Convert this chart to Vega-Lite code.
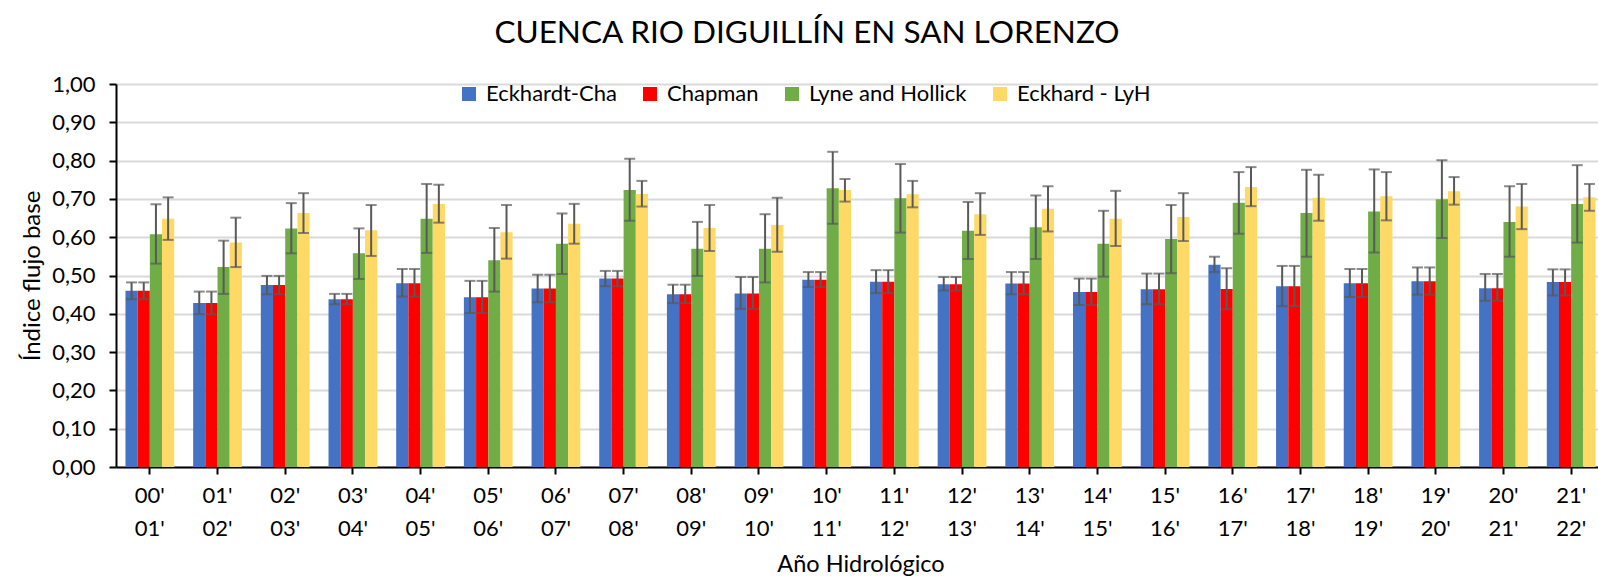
{
  "$schema": "https://vega.github.io/schema/vega-lite/v6.json",
  "autosize": {"type": "none"},
  "width": 1482,
  "height": 383,
  "padding": {"left": 116, "top": 84, "right": 0, "bottom": 113},
  "background": "white",
  "title": {"text": "CUENCA RIO DIGUILLÍN EN SAN LORENZO", "font": "Lato", "fontSize": 31.5, "fontWeight": "normal", "color": "#000000", "anchor": "middle", "frame": "group", "dx": -50, "offset": 24},
  "data": {"values": [
    {"yr": "00' 01'", "m": "Eckhardt-Cha", "v": 0.460, "lo": 0.438, "hi": 0.482},
    {"yr": "00' 01'", "m": "Chapman", "v": 0.460, "lo": 0.438, "hi": 0.482},
    {"yr": "00' 01'", "m": "Lyne and Hollick", "v": 0.608, "lo": 0.531, "hi": 0.686},
    {"yr": "00' 01'", "m": "Eckhard - LyH", "v": 0.648, "lo": 0.593, "hi": 0.704},
    {"yr": "01' 02'", "m": "Eckhardt-Cha", "v": 0.428, "lo": 0.399, "hi": 0.458},
    {"yr": "01' 02'", "m": "Chapman", "v": 0.428, "lo": 0.399, "hi": 0.458},
    {"yr": "01' 02'", "m": "Lyne and Hollick", "v": 0.522, "lo": 0.452, "hi": 0.591},
    {"yr": "01' 02'", "m": "Eckhard - LyH", "v": 0.586, "lo": 0.522, "hi": 0.651},
    {"yr": "02' 03'", "m": "Eckhardt-Cha", "v": 0.475, "lo": 0.451, "hi": 0.499},
    {"yr": "02' 03'", "m": "Chapman", "v": 0.475, "lo": 0.451, "hi": 0.499},
    {"yr": "02' 03'", "m": "Lyne and Hollick", "v": 0.623, "lo": 0.558, "hi": 0.689},
    {"yr": "02' 03'", "m": "Eckhard - LyH", "v": 0.663, "lo": 0.611, "hi": 0.715},
    {"yr": "03' 04'", "m": "Eckhardt-Cha", "v": 0.438, "lo": 0.425, "hi": 0.452},
    {"yr": "03' 04'", "m": "Chapman", "v": 0.438, "lo": 0.425, "hi": 0.452},
    {"yr": "03' 04'", "m": "Lyne and Hollick", "v": 0.558, "lo": 0.491, "hi": 0.623},
    {"yr": "03' 04'", "m": "Eckhard - LyH", "v": 0.618, "lo": 0.551, "hi": 0.684},
    {"yr": "04' 05'", "m": "Eckhardt-Cha", "v": 0.480, "lo": 0.445, "hi": 0.517},
    {"yr": "04' 05'", "m": "Chapman", "v": 0.480, "lo": 0.445, "hi": 0.517},
    {"yr": "04' 05'", "m": "Lyne and Hollick", "v": 0.648, "lo": 0.559, "hi": 0.739},
    {"yr": "04' 05'", "m": "Eckhard - LyH", "v": 0.687, "lo": 0.638, "hi": 0.737},
    {"yr": "05' 06'", "m": "Eckhardt-Cha", "v": 0.443, "lo": 0.402, "hi": 0.486},
    {"yr": "05' 06'", "m": "Chapman", "v": 0.443, "lo": 0.402, "hi": 0.486},
    {"yr": "05' 06'", "m": "Lyne and Hollick", "v": 0.540, "lo": 0.458, "hi": 0.624},
    {"yr": "05' 06'", "m": "Eckhard - LyH", "v": 0.613, "lo": 0.544, "hi": 0.684},
    {"yr": "06' 07'", "m": "Eckhardt-Cha", "v": 0.466, "lo": 0.430, "hi": 0.502},
    {"yr": "06' 07'", "m": "Chapman", "v": 0.466, "lo": 0.430, "hi": 0.502},
    {"yr": "06' 07'", "m": "Lyne and Hollick", "v": 0.583, "lo": 0.504, "hi": 0.662},
    {"yr": "06' 07'", "m": "Eckhard - LyH", "v": 0.635, "lo": 0.583, "hi": 0.687},
    {"yr": "07' 08'", "m": "Eckhardt-Cha", "v": 0.492, "lo": 0.472, "hi": 0.512},
    {"yr": "07' 08'", "m": "Chapman", "v": 0.492, "lo": 0.472, "hi": 0.512},
    {"yr": "07' 08'", "m": "Lyne and Hollick", "v": 0.723, "lo": 0.643, "hi": 0.805},
    {"yr": "07' 08'", "m": "Eckhard - LyH", "v": 0.713, "lo": 0.680, "hi": 0.747},
    {"yr": "08' 09'", "m": "Eckhardt-Cha", "v": 0.451, "lo": 0.428, "hi": 0.476},
    {"yr": "08' 09'", "m": "Chapman", "v": 0.451, "lo": 0.428, "hi": 0.476},
    {"yr": "08' 09'", "m": "Lyne and Hollick", "v": 0.570, "lo": 0.499, "hi": 0.640},
    {"yr": "08' 09'", "m": "Eckhard - LyH", "v": 0.624, "lo": 0.564, "hi": 0.684},
    {"yr": "09' 10'", "m": "Eckhardt-Cha", "v": 0.453, "lo": 0.413, "hi": 0.496},
    {"yr": "09' 10'", "m": "Chapman", "v": 0.453, "lo": 0.413, "hi": 0.496},
    {"yr": "09' 10'", "m": "Lyne and Hollick", "v": 0.570, "lo": 0.482, "hi": 0.660},
    {"yr": "09' 10'", "m": "Eckhard - LyH", "v": 0.632, "lo": 0.562, "hi": 0.703},
    {"yr": "10' 11'", "m": "Eckhardt-Cha", "v": 0.489, "lo": 0.470, "hi": 0.509},
    {"yr": "10' 11'", "m": "Chapman", "v": 0.489, "lo": 0.470, "hi": 0.509},
    {"yr": "10' 11'", "m": "Lyne and Hollick", "v": 0.728, "lo": 0.635, "hi": 0.823},
    {"yr": "10' 11'", "m": "Eckhard - LyH", "v": 0.723, "lo": 0.693, "hi": 0.752},
    {"yr": "11' 12'", "m": "Eckhardt-Cha", "v": 0.484, "lo": 0.454, "hi": 0.514},
    {"yr": "11' 12'", "m": "Chapman", "v": 0.484, "lo": 0.454, "hi": 0.514},
    {"yr": "11' 12'", "m": "Lyne and Hollick", "v": 0.702, "lo": 0.612, "hi": 0.791},
    {"yr": "11' 12'", "m": "Eckhard - LyH", "v": 0.712, "lo": 0.678, "hi": 0.747},
    {"yr": "12' 13'", "m": "Eckhardt-Cha", "v": 0.477, "lo": 0.461, "hi": 0.496},
    {"yr": "12' 13'", "m": "Chapman", "v": 0.477, "lo": 0.461, "hi": 0.496},
    {"yr": "12' 13'", "m": "Lyne and Hollick", "v": 0.617, "lo": 0.543, "hi": 0.692},
    {"yr": "12' 13'", "m": "Eckhard - LyH", "v": 0.660, "lo": 0.606, "hi": 0.715},
    {"yr": "13' 14'", "m": "Eckhardt-Cha", "v": 0.479, "lo": 0.451, "hi": 0.509},
    {"yr": "13' 14'", "m": "Chapman", "v": 0.479, "lo": 0.451, "hi": 0.509},
    {"yr": "13' 14'", "m": "Lyne and Hollick", "v": 0.626, "lo": 0.543, "hi": 0.709},
    {"yr": "13' 14'", "m": "Eckhard - LyH", "v": 0.674, "lo": 0.615, "hi": 0.733},
    {"yr": "14' 15'", "m": "Eckhardt-Cha", "v": 0.457, "lo": 0.423, "hi": 0.492},
    {"yr": "14' 15'", "m": "Chapman", "v": 0.457, "lo": 0.423, "hi": 0.492},
    {"yr": "14' 15'", "m": "Lyne and Hollick", "v": 0.583, "lo": 0.497, "hi": 0.669},
    {"yr": "14' 15'", "m": "Eckhard - LyH", "v": 0.648, "lo": 0.577, "hi": 0.721},
    {"yr": "15' 16'", "m": "Eckhardt-Cha", "v": 0.464, "lo": 0.425, "hi": 0.505},
    {"yr": "15' 16'", "m": "Chapman", "v": 0.464, "lo": 0.425, "hi": 0.505},
    {"yr": "15' 16'", "m": "Lyne and Hollick", "v": 0.595, "lo": 0.506, "hi": 0.684},
    {"yr": "15' 16'", "m": "Eckhard - LyH", "v": 0.653, "lo": 0.590, "hi": 0.715},
    {"yr": "16' 17'", "m": "Eckhardt-Cha", "v": 0.528, "lo": 0.509, "hi": 0.549},
    {"yr": "16' 17'", "m": "Chapman", "v": 0.465, "lo": 0.412, "hi": 0.519},
    {"yr": "16' 17'", "m": "Lyne and Hollick", "v": 0.690, "lo": 0.609, "hi": 0.770},
    {"yr": "16' 17'", "m": "Eckhard - LyH", "v": 0.731, "lo": 0.681, "hi": 0.783},
    {"yr": "17' 18'", "m": "Eckhardt-Cha", "v": 0.472, "lo": 0.420, "hi": 0.525},
    {"yr": "17' 18'", "m": "Chapman", "v": 0.472, "lo": 0.420, "hi": 0.525},
    {"yr": "17' 18'", "m": "Lyne and Hollick", "v": 0.663, "lo": 0.549, "hi": 0.776},
    {"yr": "17' 18'", "m": "Eckhard - LyH", "v": 0.703, "lo": 0.643, "hi": 0.763},
    {"yr": "18' 19'", "m": "Eckhardt-Cha", "v": 0.480, "lo": 0.444, "hi": 0.517},
    {"yr": "18' 19'", "m": "Chapman", "v": 0.480, "lo": 0.444, "hi": 0.517},
    {"yr": "18' 19'", "m": "Lyne and Hollick", "v": 0.667, "lo": 0.560, "hi": 0.777},
    {"yr": "18' 19'", "m": "Eckhard - LyH", "v": 0.707, "lo": 0.644, "hi": 0.770},
    {"yr": "19' 20'", "m": "Eckhardt-Cha", "v": 0.485, "lo": 0.450, "hi": 0.521},
    {"yr": "19' 20'", "m": "Chapman", "v": 0.485, "lo": 0.450, "hi": 0.521},
    {"yr": "19' 20'", "m": "Lyne and Hollick", "v": 0.699, "lo": 0.598, "hi": 0.801},
    {"yr": "19' 20'", "m": "Eckhard - LyH", "v": 0.720, "lo": 0.685, "hi": 0.757},
    {"yr": "20' 21'", "m": "Eckhardt-Cha", "v": 0.467, "lo": 0.434, "hi": 0.504},
    {"yr": "20' 21'", "m": "Chapman", "v": 0.467, "lo": 0.434, "hi": 0.504},
    {"yr": "20' 21'", "m": "Lyne and Hollick", "v": 0.640, "lo": 0.549, "hi": 0.733},
    {"yr": "20' 21'", "m": "Eckhard - LyH", "v": 0.680, "lo": 0.621, "hi": 0.739},
    {"yr": "21' 22'", "m": "Eckhardt-Cha", "v": 0.483, "lo": 0.448, "hi": 0.516},
    {"yr": "21' 22'", "m": "Chapman", "v": 0.483, "lo": 0.448, "hi": 0.516},
    {"yr": "21' 22'", "m": "Lyne and Hollick", "v": 0.687, "lo": 0.586, "hi": 0.788},
    {"yr": "21' 22'", "m": "Eckhard - LyH", "v": 0.704, "lo": 0.669, "hi": 0.739}
  ]},
  "encoding": {
    "x": {
      "field": "yr", "type": "nominal", "sort": null,
      "scale": {"range": [0, 1489], "paddingInner": 0.28, "paddingOuter": 0.14},
      "axis": {
        "title": "Año Hidrológico", "titleFont": "Lato", "titleFontSize": 23.5, "titleFontWeight": "normal", "titleColor": "#000000",
        "titleBaseline": "middle", "titleY": 97,
        "labelFont": "Lato", "labelFontSize": 22, "labelColor": "#000000", "labelAngle": 0,
        "labelExpr": "split(datum.label, ' ')", "labelLineHeight": 33, "labelPadding": 11,
        "domainColor": "#000000", "domainWidth": 2, "tickColor": "#000000", "tickWidth": 2, "tickSize": 7,
        "grid": false
      }
    },
    "xOffset": {"field": "m", "type": "nominal", "scale": {"domain": ["Eckhardt-Cha", "Chapman", "Lyne and Hollick", "Eckhard - LyH"]}}
  },
  "layer": [
    {
      "mark": {"type": "bar"},
      "encoding": {
        "y": {
          "field": "v", "type": "quantitative",
          "scale": {"domain": [0, 1], "nice": false},
          "axis": {
            "title": "Índice flujo base", "titleFont": "Lato", "titleFontSize": 24, "titleFontWeight": "normal", "titleColor": "#000000",
            "titleAngle": -90, "titleAlign": "center", "titleBaseline": "middle", "titleX": -84, "titleY": 191.5,
            "values": [0, 0.1, 0.2, 0.3, 0.4, 0.5, 0.6, 0.7, 0.8, 0.9, 1.0], "labelOverlap": false,
            "labelExpr": "replace(format(datum.value, '.2f'), '.', ',')",
            "labelFont": "Lato", "labelFontSize": 22, "labelColor": "#000000", "labelPadding": 14,
            "domainColor": "#000000", "domainWidth": 2, "tickColor": "#000000", "tickWidth": 2, "tickSize": 7,
            "grid": true, "gridColor": "#D9D9D9", "gridWidth": 2
          }
        },
        "color": {
          "field": "m", "type": "nominal",
          "scale": {"domain": ["Eckhardt-Cha", "Chapman", "Lyne and Hollick", "Eckhard - LyH"], "range": ["#4472C4", "#FF0000", "#70AD47", "#FFD966"]},
          "legend": {
            "title": null, "orient": "none", "direction": "horizontal", "legendX": 342, "legendY": -1,
            "symbolType": "square", "symbolSize": 196, "symbolStrokeWidth": 0, "symbolOpacity": 1,
            "labelFont": "Lato", "labelFontSize": 22, "labelColor": "#000000", "labelOffset": 6, "columnPadding": 22
          }
        }
      }
    },
    {
      "mark": {"type": "rule", "color": "#595959", "strokeWidth": 2},
      "encoding": {
        "y": {
          "field": "lo", "type": "quantitative",
          "scale": {"domain": [0, 1], "nice": false},
          "axis": {
            "title": "Índice flujo base", "titleFont": "Lato", "titleFontSize": 24, "titleFontWeight": "normal", "titleColor": "#000000",
            "titleAngle": -90, "titleAlign": "center", "titleBaseline": "middle", "titleX": -84, "titleY": 191.5,
            "values": [0, 0.1, 0.2, 0.3, 0.4, 0.5, 0.6, 0.7, 0.8, 0.9, 1.0], "labelOverlap": false,
            "labelExpr": "replace(format(datum.value, '.2f'), '.', ',')",
            "labelFont": "Lato", "labelFontSize": 22, "labelColor": "#000000", "labelPadding": 14,
            "domainColor": "#000000", "domainWidth": 2, "tickColor": "#000000", "tickWidth": 2, "tickSize": 7,
            "grid": true, "gridColor": "#D9D9D9", "gridWidth": 2
          }
        },
        "y2": {"field": "hi"}
      }
    },
    {
      "mark": {"type": "tick", "color": "#595959", "thickness": 2, "size": 11},
      "encoding": {
        "y": {
          "field": "lo", "type": "quantitative",
          "scale": {"domain": [0, 1], "nice": false},
          "axis": {
            "title": "Índice flujo base", "titleFont": "Lato", "titleFontSize": 24, "titleFontWeight": "normal", "titleColor": "#000000",
            "titleAngle": -90, "titleAlign": "center", "titleBaseline": "middle", "titleX": -84, "titleY": 191.5,
            "values": [0, 0.1, 0.2, 0.3, 0.4, 0.5, 0.6, 0.7, 0.8, 0.9, 1.0], "labelOverlap": false,
            "labelExpr": "replace(format(datum.value, '.2f'), '.', ',')",
            "labelFont": "Lato", "labelFontSize": 22, "labelColor": "#000000", "labelPadding": 14,
            "domainColor": "#000000", "domainWidth": 2, "tickColor": "#000000", "tickWidth": 2, "tickSize": 7,
            "grid": true, "gridColor": "#D9D9D9", "gridWidth": 2
          }
        }
      }
    },
    {
      "mark": {"type": "tick", "color": "#595959", "thickness": 2, "size": 11},
      "encoding": {
        "y": {
          "field": "hi", "type": "quantitative",
          "scale": {"domain": [0, 1], "nice": false},
          "axis": {
            "title": "Índice flujo base", "titleFont": "Lato", "titleFontSize": 24, "titleFontWeight": "normal", "titleColor": "#000000",
            "titleAngle": -90, "titleAlign": "center", "titleBaseline": "middle", "titleX": -84, "titleY": 191.5,
            "values": [0, 0.1, 0.2, 0.3, 0.4, 0.5, 0.6, 0.7, 0.8, 0.9, 1.0], "labelOverlap": false,
            "labelExpr": "replace(format(datum.value, '.2f'), '.', ',')",
            "labelFont": "Lato", "labelFontSize": 22, "labelColor": "#000000", "labelPadding": 14,
            "domainColor": "#000000", "domainWidth": 2, "tickColor": "#000000", "tickWidth": 2, "tickSize": 7,
            "grid": true, "gridColor": "#D9D9D9", "gridWidth": 2
          }
        }
      }
    }
  ],
  "config": {"view": {"stroke": null}}
}
